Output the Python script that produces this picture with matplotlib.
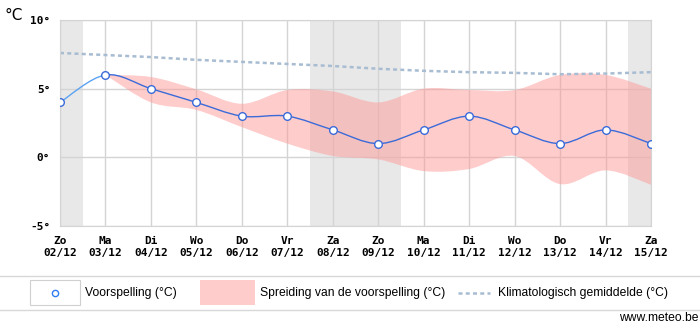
import numpy as np
import matplotlib.pyplot as plt
from matplotlib.path import Path
from matplotlib.patches import PathPatch, Rectangle
from matplotlib.lines import Line2D

days = ['Zo', 'Ma', 'Di', 'Wo', 'Do', 'Vr', 'Za', 'Zo', 'Ma', 'Di', 'Wo', 'Do', 'Vr', 'Za']
dates = ['02/12', '03/12', '04/12', '05/12', '06/12', '07/12', '08/12',
         '09/12', '10/12', '11/12', '12/12', '13/12', '14/12', '15/12']
forecast = [4, 6, 5, 4, 3, 3, 2, 1, 2, 3, 2, 1, 2, 1]
# spread starts on the second day
spread_hi = [6.0, 5.85, 4.95, 3.9, 4.9, 4.8, 4.0, 5.0, 4.9, 4.9, 6.0, 6.0, 5.0]
spread_lo = [6.0, 4.0, 3.45, 2.2, 1.0, 0.1, -0.15, -1.0, -0.85, 0.1, -1.95, -0.95, -2.0]
climate = [7.6, 7.45, 7.3, 7.1, 6.95, 6.8, 6.65, 6.45, 6.3, 6.2, 6.15, 6.05, 6.1, 6.2]
weekend = [0, 6, 7, 13]

BLUE = '#3a6bd8'
GRID = '#d4d4d4'


def smooth(x, y, start=Path.MOVETO):
    # Catmull-Rom spline through the points, as cubic bezier segments
    p = np.column_stack([x, y]).astype(float)
    n = len(p)
    verts, codes = [p[0]], [start]
    for i in range(n - 1):
        a = p[max(i - 1, 0)]
        d = p[min(i + 2, n - 1)]
        verts += [p[i] + (p[i + 1] - a) / 6, p[i + 1] - (d - p[i]) / 6, p[i + 1]]
        codes += [Path.CURVE4] * 3
    return verts, codes


x = np.arange(len(days))
xs = x[1:]

fig = plt.figure(figsize=(7, 3.27), dpi=100)
ax = fig.add_axes([60 / 700, 1 - 226 / 327, 591 / 700, 206 / 327])
ax.set_xlim(0, 13)
ax.set_ylim(-5, 10)
ax.set_axisbelow(True)

for d in weekend:
    ax.axvspan(d - 0.5, d + 0.5, color='#e8e8e8', lw=0, zorder=0.3)

ax.set_xticks(x)
ax.set_xticklabels([f'{a}\n{b}' for a, b in zip(days, dates)],
                   family='DejaVu Sans Mono', weight='bold', fontsize=8, linespacing=1.25)
ax.set_yticks([-5, 0, 5, 10])
ax.set_yticklabels(['-5°', '0°', '5°', '10°'], family='DejaVu Sans Mono',
                   weight='bold', fontsize=8)
ax.tick_params(length=0, pad=7)
ax.tick_params(axis='y', pad=7)
ax.grid(True, color=GRID, lw=1)
for s in ax.spines.values():
    s.set_color(GRID)

# spread band
v1, c1 = smooth(xs, spread_hi)
v2, c2 = smooth(xs[::-1], spread_lo[::-1], start=Path.LINETO)
band = Path(v1 + v2 + [v1[0]], c1 + c2 + [Path.CLOSEPOLY])
ax.add_patch(PathPatch(band, facecolor='#ff9a9a', alpha=0.5, lw=0, zorder=1))

# climatological mean
ax.plot(x, climate, color='#a8bcd2', lw=1.8, dashes=(1.6, 1.3), zorder=2)

# forecast line
vf, cf = smooth(x, forecast)
ax.add_patch(PathPatch(Path(vf[:4], cf[:4]), fill=False, edgecolor='#5aa2f2', lw=1, zorder=3))
ax.add_patch(PathPatch(Path([vf[3]] + vf[4:], [Path.MOVETO] + cf[4:]), fill=False,
                       edgecolor=BLUE, lw=1, zorder=3))
ax.plot(x, forecast, ls='none', marker='o', ms=5.5, mfc='white', mec=BLUE, mew=1, zorder=4)

fig.text(5 / 700, 1 - 16 / 327, '°C', fontsize=11, va='center', family='DejaVu Sans')

# legend strip
for yy in (276, 310):
    fig.add_artist(Line2D([0, 1], [1 - yy / 327] * 2, color='#d8d8d8', lw=1))
fig.add_artist(Rectangle((30 / 700, 1 - 305 / 327), 50 / 700, 25 / 327,
                         facecolor='white', edgecolor='#d0d0d0', lw=0.8))
fig.add_artist(Line2D([55 / 700], [1 - 293 / 327], marker='o', ms=4.5, mfc='white',
                      mec='#2f7df0', mew=1, ls='none'))
fig.add_artist(Rectangle((200 / 700, 1 - 305 / 327), 55 / 700, 25 / 327,
                         facecolor='#ffcccc', edgecolor='none'))
fig.add_artist(Line2D([458 / 700, 490 / 700], [1 - 293 / 327] * 2, color='#a8bcd2',
                      lw=1.8, dashes=(1.6, 1.3)))
leg_kw = dict(fontsize=8.7, va='center', family='Liberation Sans')
fig.text(85 / 700, 1 - 293 / 327, 'Voorspelling (°C)', **leg_kw)
fig.text(260 / 700, 1 - 293 / 327, 'Spreiding van de voorspelling (°C)', **leg_kw)
fig.text(498 / 700, 1 - 293 / 327, 'Klimatologisch gemiddelde (°C)', **leg_kw)
fig.text(699 / 700, 1 - 318 / 327, 'www.meteo.be', ha='right', **leg_kw)

fig.savefig('out.png', dpi=100)
